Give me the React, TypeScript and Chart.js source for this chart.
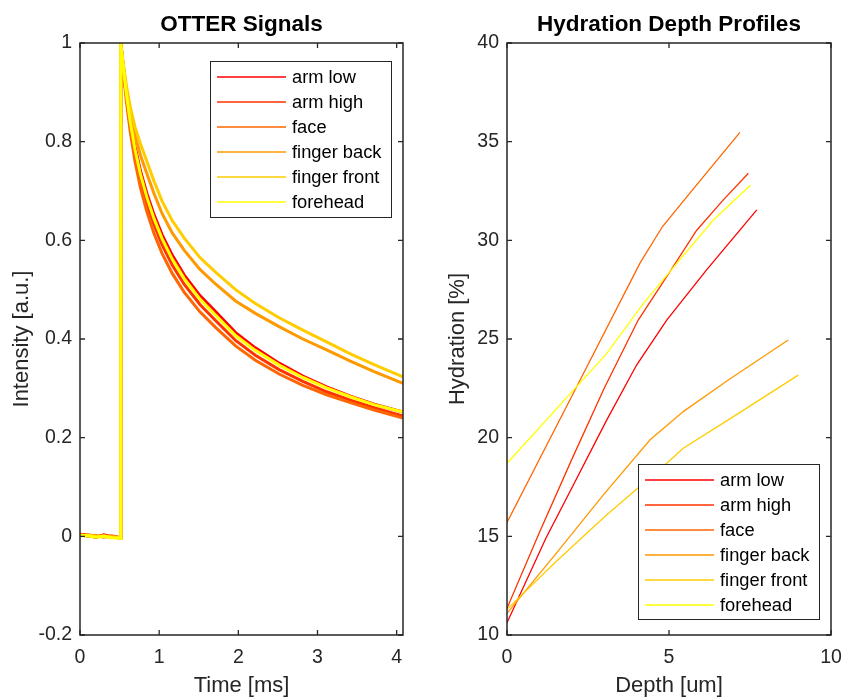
import React, { useEffect, useRef } from "react";
import { Chart, registerables } from "chart.js";

Chart.register(...registerables);

const FONT = "'Liberation Sans', Arial, Helvetica, sans-serif";
const INK = "#262626";

// ---------- shared series info ----------
const seriesNames = ["arm low", "arm high", "face", "finger back", "finger front", "forehead"];
const seriesColors = ["#ff0000", "#ff3300", "#ff6600", "#ff9900", "#ffcc00", "#ffff00"];

// ---------- left panel: OTTER signals ----------
const timeMs = [0, 0.1, 0.2, 0.3, 0.4, 0.51, 0.515, 0.545, 0.585, 0.635, 0.695, 0.765, 0.845, 0.935, 1.035, 1.165, 1.315, 1.515, 1.715, 1.965, 2.215, 2.515, 2.815, 3.115, 3.415, 3.715, 4.08];
const sigArmLow = [0.004, 0.002, -0.002, 0.003, -0.001, -0.003, 1, 0.955, 0.900, 0.845, 0.790, 0.740, 0.695, 0.652, 0.612, 0.570, 0.530, 0.488, 0.455, 0.413, 0.382, 0.351, 0.325, 0.303, 0.284, 0.268, 0.252];
const sigArmHigh = [0.003, 0.001, -0.001, 0.002, -0.002, -0.002, 1, 0.950, 0.893, 0.833, 0.775, 0.722, 0.675, 0.632, 0.592, 0.550, 0.511, 0.470, 0.437, 0.397, 0.367, 0.338, 0.314, 0.293, 0.276, 0.261, 0.244];
const sigFace = [0.002, 0.003, 0.000, -0.001, 0.001, -0.003, 1, 0.945, 0.883, 0.820, 0.760, 0.706, 0.658, 0.614, 0.574, 0.533, 0.495, 0.455, 0.423, 0.386, 0.357, 0.329, 0.306, 0.287, 0.271, 0.256, 0.240];
const sigFingerBack = [0.003, 0.000, 0.002, -0.002, 0.000, -0.004, 1, 0.957, 0.908, 0.858, 0.812, 0.772, 0.735, 0.695, 0.655, 0.615, 0.580, 0.541, 0.511, 0.477, 0.452, 0.425, 0.400, 0.378, 0.355, 0.334, 0.310];
const sigFingerFront = [0.001, 0.002, -0.001, 0.001, -0.002, -0.003, 1, 0.960, 0.915, 0.870, 0.830, 0.795, 0.760, 0.720, 0.680, 0.640, 0.605, 0.565, 0.535, 0.500, 0.472, 0.443, 0.418, 0.394, 0.370, 0.348, 0.323];
const sigForehead = [0.002, 0.001, -0.002, 0.000, -0.003, -0.004, 1, 0.953, 0.897, 0.840, 0.784, 0.733, 0.687, 0.644, 0.604, 0.562, 0.523, 0.481, 0.448, 0.407, 0.377, 0.347, 0.322, 0.301, 0.283, 0.267, 0.252];
const leftXTicks = [0, 1, 2, 3, 4];
const leftYTicks = [-0.2, 0, 0.2, 0.4, 0.6, 0.8, 1];
const leftYLabels = ["-0.2", "0", "0.2", "0.4", "0.6", "0.8", "1"];

// ---------- right panel: hydration depth profiles ----------
const depthArmLow = [0, 1.2, 2.0, 3.08, 4.0, 4.93, 6.16, 7.71];
const hydArmLow = [10.62, 14.9, 17.45, 20.9, 23.68, 25.96, 28.5, 31.54];
const depthArmHigh = [0, 1, 2, 3, 4.05, 5.03, 5.85, 6.65, 7.45];
const hydArmHigh = [11.35, 15.2, 18.9, 22.5, 25.96, 28.41, 30.5, 32.0, 33.4];
const depthFace = [0, 2.15, 4.1, 4.8, 5.6, 6.4, 7.19];
const hydFace = [15.7, 22.58, 28.83, 30.7, 32.3, 33.9, 35.47];
const depthFingerBack = [0, 1.5, 3.0, 4.41, 5.44, 6.83, 8.68];
const hydFingerBack = [11.1, 14.1, 17.15, 19.88, 21.32, 22.92, 24.95];
const depthFingerFront = [0, 1.5, 3.02, 4.93, 5.44, 6.83, 8.99];
const hydFingerFront = [11.3, 13.7, 16.0, 18.7, 19.46, 20.9, 23.17];
const depthForehead = [0, 3.08, 4.21, 5.24, 6.37, 7.52];
const hydForehead = [18.7, 24.27, 26.81, 28.83, 31.03, 32.8];
const rightXTicks = [0, 5, 10];
const rightYTicks = [10, 15, 20, 25, 30, 35, 40];

// ---------- decoration plugin (title, box, inward ticks, legend) ----------
const decorPlugin = {
  id: "decor",
  afterDraw(chart: any, _args: any, opts: any) {
    const { ctx, chartArea: a } = chart;
    ctx.save();
    // title
    ctx.fillStyle = "#000";
    ctx.font = `bold 22.5px ${FONT}`;
    ctx.textAlign = "center";
    ctx.textBaseline = "middle";
    ctx.fillText(opts.title, (a.left + a.right) / 2, 25);

    // box
    ctx.strokeStyle = INK;
    ctx.lineWidth = 1.5;
    ctx.strokeRect(a.left, a.top, a.right - a.left, a.bottom - a.top);

    // inward ticks
    const L = 5;
    ctx.lineWidth = 1.3;
    ctx.beginPath();
    const xs = chart.scales.x;
    xs.ticks.forEach((t: any) => {
      const p = xs.getPixelForValue(t.value);
      ctx.moveTo(p, a.bottom);
      ctx.lineTo(p, a.bottom - L);
      ctx.moveTo(p, a.top);
      ctx.lineTo(p, a.top + L);
    });
    const ys = chart.scales.y;
    ys.ticks.forEach((t: any) => {
      const p = ys.getPixelForValue(t.value);
      ctx.moveTo(a.left, p);
      ctx.lineTo(a.left + L, p);
      ctx.moveTo(a.right, p);
      ctx.lineTo(a.right - L, p);
    });
    ctx.stroke();

    // legend
    const lg = opts.legend;
    const bx = a.right - lg.fromRight;
    const by = lg.fromTop != null ? a.top + lg.fromTop : a.bottom - lg.fromBottom;
    ctx.fillStyle = "#fff";
    ctx.fillRect(bx, by, lg.w, lg.h);
    ctx.lineWidth = 1;
    ctx.strokeStyle = INK;
    ctx.strokeRect(bx + 0.5, by + 0.5, lg.w, lg.h);
    ctx.font = `18.3px ${FONT}`;
    ctx.textAlign = "left";
    ctx.textBaseline = "middle";
    chart.data.datasets.forEach((ds: any, i: number) => {
      const yy = by + 16 + i * 25;
      ctx.strokeStyle = ds.borderColor;
      ctx.lineWidth = 1.5;
      ctx.beginPath();
      ctx.moveTo(bx + 7, yy);
      ctx.lineTo(bx + 76, yy);
      ctx.stroke();
      ctx.fillStyle = "#000";
      ctx.fillText(ds.label, bx + 82, yy + 1);
    });
    ctx.restore();
  },
};

function makeScales(xMin: number, xMax: number, xTicks: number[], yMin: number, yMax: number, yTicks: number[], yLabels: string[] | null, xTitle: string, yTitle: string, yWidth: number, yTitlePad: number) {
  return {
    x: {
      type: "linear",
      min: xMin,
      max: xMax,
      afterBuildTicks: (s: any) => {
        s.ticks = xTicks.map((v) => ({ value: v }));
      },
      afterFit: (s: any) => {
        s.height = 65;
        s.paddingLeft = 0;
        s.paddingRight = 0;
      },
      ticks: {
        font: { family: FONT, size: 19.5 },
        color: INK,
        padding: 11,
        maxRotation: 0,
        autoSkip: false,
        callback: (v: any) => String(v),
      },
      grid: { display: false, drawTicks: false },
      border: { display: false },
      title: {
        display: true,
        text: xTitle,
        color: INK,
        font: { family: FONT, size: 22 },
        padding: { top: 0, bottom: 1 },
      },
    },
    y: {
      type: "linear",
      min: yMin,
      max: yMax,
      afterBuildTicks: (s: any) => {
        s.ticks = yTicks.map((v) => ({ value: v }));
      },
      afterFit: (s: any) => {
        s.width = yWidth;
      },
      ticks: {
        font: { family: FONT, size: 19.5 },
        color: INK,
        padding: 8,
        autoSkip: false,
        callback: (v: any, i: number) => (yLabels ? yLabels[i] : String(v)),
      },
      grid: { display: false, drawTicks: false },
      border: { display: false },
      title: {
        display: true,
        text: yTitle,
        color: INK,
        font: { family: FONT, size: 22 },
        padding: { top: yTitlePad, bottom: 0 },
      },
    },
  };
}

function buildDatasets(xsList: number[][], ysList: number[][], width: number) {
  return seriesNames.map((name, i) => ({
    label: name,
    data: xsList[i].map((x, k) => ({ x, y: ysList[i][k] })),
    borderColor: seriesColors[i],
    backgroundColor: seriesColors[i],
    borderWidth: width,
    pointRadius: 0,
    tension: 0,
    fill: false,
    order: seriesNames.length - i,
  }));
}

function leftConfig(): any {
  const sig = [sigArmLow, sigArmHigh, sigFace, sigFingerBack, sigFingerFront, sigForehead];
  return {
    type: "line",
    data: { datasets: buildDatasets(sig.map(() => timeMs), sig, 3) },
    options: {
      responsive: false,
      devicePixelRatio: 1,
      animation: false,
      events: [],
      layout: { padding: { left: 0, right: 19, top: 43, bottom: 0 } },
      scales: makeScales(0, 4.08, leftXTicks, -0.2, 1, leftYTicks, leftYLabels, "Time [ms]", "Intensity [a.u.]", 80, 8.5),
      plugins: {
        legend: { display: false },
        tooltip: { enabled: false },
        decor: { title: "OTTER Signals", legend: { fromRight: 193, fromTop: 18, w: 181, h: 156 } },
      },
    },
    plugins: [decorPlugin],
  };
}

function rightConfig(): any {
  const dx = [depthArmLow, depthArmHigh, depthFace, depthFingerBack, depthFingerFront, depthForehead];
  const hy = [hydArmLow, hydArmHigh, hydFace, hydFingerBack, hydFingerFront, hydForehead];
  return {
    type: "line",
    data: { datasets: buildDatasets(dx, hy, 1.3) },
    options: {
      responsive: false,
      devicePixelRatio: 1,
      animation: false,
      events: [],
      layout: { padding: { left: 0, right: 13, top: 43, bottom: 0 } },
      scales: makeScales(0, 10, rightXTicks, 10, 40, rightYTicks, null, "Depth [um]", "Hydration [%]", 85, 23),
      plugins: {
        legend: { display: false },
        tooltip: { enabled: false },
        decor: { title: "Hydration Depth Profiles", legend: { fromRight: 193, fromBottom: 171, w: 181, h: 155 } },
      },
    },
    plugins: [decorPlugin],
  };
}

function ChartCanvas({ make, left }: { make: () => any; left: number }) {
  const ref = useRef<HTMLCanvasElement>(null);
  useEffect(() => {
    const chart = new Chart(ref.current as HTMLCanvasElement, make());
    return () => chart.destroy();
  }, []);
  return (
    <canvas
      ref={ref}
      width={422}
      height={700}
      style={{ position: "absolute", left, top: 0, width: 422, height: 700 }}
    />
  );
}

export default function App() {
  return (
    <div style={{ position: "absolute", left: 0, top: 0, width: 844, height: 700, background: "#fff" }}>
      <ChartCanvas make={leftConfig} left={0} />
      <ChartCanvas make={rightConfig} left={422} />
    </div>
  );
}
